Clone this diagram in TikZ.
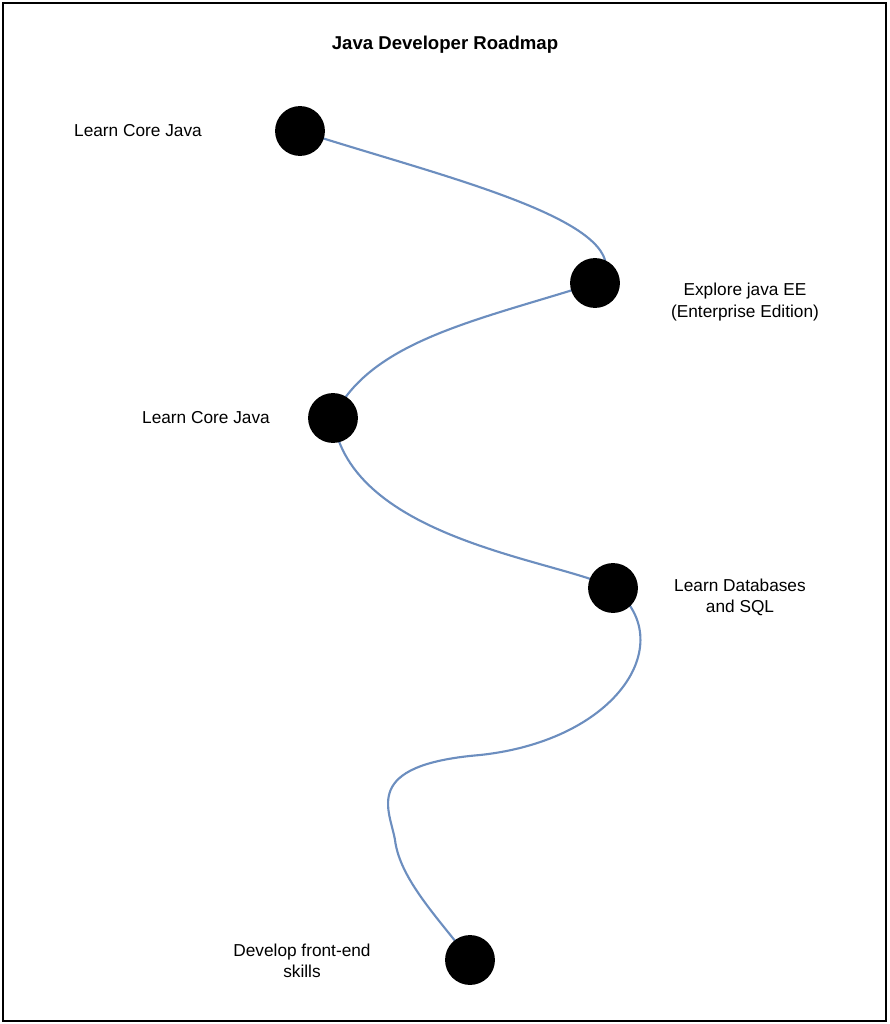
\documentclass[tikz,border=0pt]{standalone}
\usepackage{fontspec}
\setmainfont{Liberation Sans}
\definecolor{pathblue}{RGB}{108,142,191}
\tikzstyle{milestone} = [circle, fill=black, minimum size=1.32cm, inner sep=0pt]
\tikzstyle{label} = [align=center, font=\fontsize{13}{16}\selectfont]
\tikzstyle{road} = [draw=pathblue, line width=1.6pt]
\begin{document}
\begin{tikzpicture}[x=0.02646cm, y=-0.02646cm]
  \useasboundingbox (0,0) rectangle (889,1024);
  \draw[line width=0.8pt] (3,3) rectangle (886,1021);
  \node (title) [font=\bfseries\fontsize{14}{17}\selectfont] at (445,45) {Java Developer Roadmap};

  \coordinate (c1) at (300,131);
  \coordinate (c2) at (595,283);
  \coordinate (c3) at (333,418);
  \coordinate (c4) at (613,588);
  \coordinate (c5) at (470,960);

  % road between milestones
  \draw[road] (c1) .. controls (420,170) and (590,210) .. (605,260) -- (c2);
  \draw[road] (c2) .. controls (480,320) and (370,340) .. (c3);
  \draw[road] (c3) .. controls (350,540) and (560,560) .. (c4);
  \draw[road] (c4) .. controls (680,640) and (620,740) .. (480,755)
                   .. controls (360,765) and (390,810) .. (395,840)
                   .. controls (400,880) and (440,920) .. (c5);

  \node (m1) [milestone] at (c1) {};
  \node (m2) [milestone] at (c2) {};
  \node (m3) [milestone] at (c3) {};
  \node (m4) [milestone] at (c4) {};
  \node (m5) [milestone] at (c5) {};

  \node (l1) [label] at (138,131) {Learn Core Java};
  \node (l2) [label] at (745,302) {Explore java EE\\(Enterprise Edition)};
  \node (l3) [label] at (206,418) {Learn Core Java};
  \node (l4) [label] at (740,597) {Learn Databases\\and SQL};
  \node (l5) [label] at (302,961) {Develop front-end\\skills};
\end{tikzpicture}
\end{document}
